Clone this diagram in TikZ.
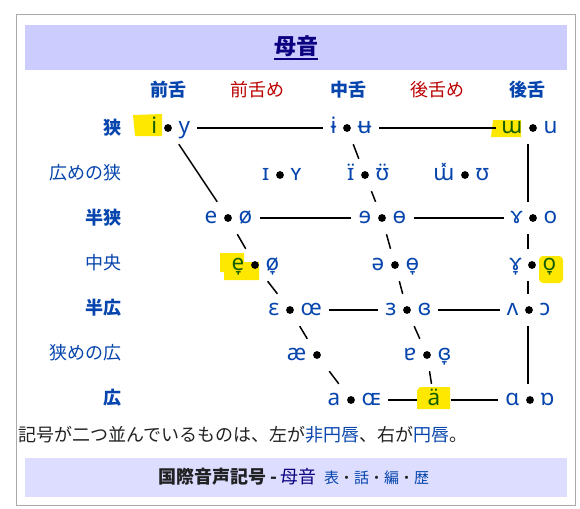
\documentclass[tikz,border=0pt]{standalone}
\usepackage{fontspec}
\setmainfont{Noto Sans CJK JP}
\newfontfamily\ipa{Noto Sans}
\definecolor{lk}{HTML}{0645AD}
\definecolor{rd}{HTML}{BA0000}
\definecolor{nv}{HTML}{0B0080}
\definecolor{hl}{HTML}{FFE800}
\definecolor{hg}{HTML}{155E00}
\definecolor{fr}{HTML}{AAAAAA}
\definecolor{tb}{HTML}{CCCCFF}
\definecolor{fb}{HTML}{DDDDFF}
\definecolor{tx}{HTML}{202122}
\newcommand\ipafont{\ipa\fontsize{22.5}{26}\selectfont}
\newcommand\jpfont{\fontsize{18}{22}\selectfont}
\newcommand\vp[5]{%
  \node[vb] (#1) at (#2,#3) {};
  \node[vl, anchor=base east] (#1-l) at ([xshift=-10.5pt,yshift=-5.5pt]#1.center) {#4};
  \node[vl, anchor=base west] (#1-r) at ([xshift=10.5pt,yshift=-5.5pt]#1.center) {#5};
}
\begin{document}
\begin{tikzpicture}[x=1pt,y=-1pt,
  ln/.style={line width=1.5pt, black},
  hs/.style={shorten <=7pt, shorten >=7pt},
  vb/.style={inner sep=0pt, minimum width=56pt, minimum height=32pt, font=\ipafont, text height=11pt, text depth=0pt,
    path picture={\fill[black] (path picture bounding box.center) circle (3.9pt);}},
  vl/.style={inner sep=0pt, font=\ipafont, text=lk},
  hd/.style={font=\jpfont\bfseries, text=lk, inner sep=0pt},
  hdr/.style={font=\jpfont, text=rd, inner sep=0pt},
  rl/.style={font=\jpfont\bfseries, text=lk, anchor=east, inner sep=0pt},
  rlr/.style={font=\jpfont, text=lk, anchor=east, inner sep=0pt},
  hlt/.style={fill=hl, draw=none}
]
\useasboundingbox (0,0) rectangle (580,508);
% frame and bars
\draw[fr, line width=1pt] (16,15) rectangle (575,505);
\fill[tb] (25,25) rectangle (567,70);
\fill[fb] (25,458) rectangle (567,497);
\node[font=\fontsize{22}{26}\selectfont\bfseries, text=nv, inner sep=0pt] (title) at (296,46) {母音};
\draw[nv, line width=1.6pt] ([yshift=-2pt]title.south west) -- ([yshift=-2pt]title.south east);
% highlights
\fill[hlt] (133,115) -- (162,114) -- (162,136) -- (135,136) -- cycle;
\fill[hlt] (493,120) -- (521,120) -- (521,137) -- (491,137) -- cycle;
\fill[hlt] (220,253) -- (244,253) -- (244,262) -- (259,262) -- (259,280) -- (224,280) -- (224,272) -- (220,272) -- cycle;
\fill[hlt, rounded corners=4pt] (539,256) -- (563,256) -- (563,283) -- (539,283) -- cycle;
\fill[hlt] (420,387) -- (450,387) -- (450,409) -- (417,409) -- (417,390) -- cycle;
% column headers
\node[hd] (h1) at (168,90) {前舌};
\node[hdr] (h2) at (257,90) {前舌め};
\node[hd] (h3) at (348,90) {中舌};
\node[hdr] (h4) at (437,90) {後舌め};
\node[hd] (h5) at (527,90) {後舌};
% row labels
\node[rl] (r1) at (122,128) {狭};
\node[rlr] (r2) at (122,173) {広めの狭};
\node[rl] (r3) at (122,218) {半狭};
\node[rlr] (r4) at (122,263) {中央};
\node[rl] (r5) at (122,308) {半広};
\node[rlr] (r6) at (122,353) {狭めの広};
\node[rl] (r7) at (122,398) {広};
% vowels
\vp{iy}{168}{128}{\textcolor{hg}{i}}{y}
\vp{iu}{347}{128}{ɨ}{ʉ}
\vp{uu}{533}{128}{\textcolor{hg}{ɯ}}{u}
\vp{IY}{280}{175}{ɪ}{ʏ}
\vp{IU}{365}{175}{ɪ̈}{ʊ̈}
\vp{UU}{465}{175}{ɯ̽}{ʊ}
\vp{eo}{228}{218}{e}{ø}
\vp{eoc}{382}{218}{ɘ}{ɵ}
\vp{go}{533}{218}{ɤ}{o}
\vp{eL}{255}{265}{\textcolor{hg}{e̞}}{ø̞}
\vp{sw}{395}{265}{ə}{ɵ̞}
\vp{gL}{532}{265}{ɤ̞}{\textcolor{hg}{o̞}}
\vp{Eoe}{290}{310}{ɛ}{œ}
\vp{eB}{407}{310}{ɜ}{ɞ}
\vp{vc}{529}{310}{ʌ}{ɔ}
\vp{ae}{317}{355}{æ}{}
\vp{aB}{427}{355}{ɐ}{ɞ̞}
\vp{aOE}{351}{400}{a}{ɶ}
\node[vb, path picture={}, minimum width=33pt, text=hg] (adia) at (434,400) {ä};
\vp{Aq}{530}{400}{ɑ}{ɒ}
% front line
\draw[ln] (iy) -- (eo);
\draw[ln] (eo) -- (eL);
\draw[ln] (eL) -- (Eoe);
\draw[ln] (Eoe) -- (ae);
\draw[ln] (ae) -- (aOE);
% central line
\draw[ln] (iu) -- (IU);
\draw[ln] (IU) -- (eoc);
\draw[ln] (eoc) -- (sw);
\draw[ln] (sw) -- (eB);
\draw[ln] (eB) -- (aB);
\draw[ln] (aB) -- (adia);
% back line
\coordinate (bx) at (528,0);
\draw[ln] (uu.south -| bx) -- (go.north -| bx);
\draw[ln] (go.south -| bx) -- (gL.north -| bx);
\draw[ln] (gL.south -| bx) -- (vc.north -| bx);
\draw[ln] (vc.south -| bx) -- (Aq.north -| bx);
% horizontal lines
\draw[ln, hs] (iy-r.east |- iy.center) -- (iu-l.west |- iu.center);
\draw[ln, shorten <=7pt, shorten >=5pt] (iu-r.east |- iu.center) -- (uu-l.west |- uu.center);
\draw[ln, hs] (eo-r.east |- eo.center) -- (eoc-l.west |- eoc.center);
\draw[ln, hs] (eoc-r.east |- eoc.center) -- (go-l.west |- go.center);
\draw[ln, hs] (Eoe-r.east |- Eoe.center) -- (eB-l.west |- eB.center);
\draw[ln, hs] (eB-r.east |- eB.center) -- (vc-l.west |- vc.center);
\draw[ln, shorten <=7pt] (aOE-r.east |- aOE.center) -- (adia.west);
\draw[ln, shorten >=7pt] (adia.east) -- (Aq-l.west |- Aq.center);
% caption
\node[anchor=west, inner sep=0pt, font=\jpfont, text=tx] (cap) at (18,435) {記号が二つ並んでいるものは、左が\textcolor{lk}{非円唇}、右が\textcolor{lk}{円唇}。};
% footer
\node[inner sep=0pt, text=tx] (foot) at (294,477) {{\fontsize{18}{22}\selectfont\bfseries 国際音声記号 -} {\fontsize{18}{22}\selectfont\color{nv}母音}\hspace{8pt}{\fontsize{15}{18}\selectfont\textcolor{lk}{表}・\textcolor{lk}{話}・\textcolor{lk}{編}・\textcolor{lk}{歴}}};
\end{tikzpicture}
\end{document}
